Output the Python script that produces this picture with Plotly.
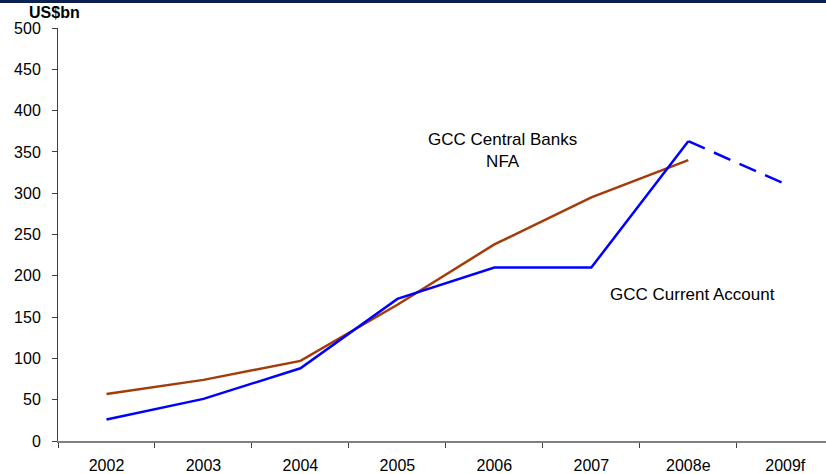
import plotly.graph_objects as go

years = ["2002", "2003", "2004", "2005", "2006", "2007", "2008e", "2009f"]
current_account = [26, 51, 88, 172, 210, 210, 363, 311]
central_bank_nfa = [57, 74, 97, 165, 238, 295, 340]
y_ticks = [0, 50, 100, 150, 200, 250, 300, 350, 400, 450, 500]

BLUE = "#0000FF"
BROWN = "#A33B0B"
FONT = "Arial, Liberation Sans, sans-serif"

fig = go.Figure()

# GCC central banks net foreign assets
fig.add_trace(go.Scatter(
    x=years[:7], y=central_bank_nfa, mode="lines",
    line=dict(color=BROWN, width=2.5), showlegend=False,
))
# GCC current account: actuals/estimate solid, forecast dashed
fig.add_trace(go.Scatter(
    x=years[:7], y=current_account[:7], mode="lines",
    line=dict(color=BLUE, width=2.5), showlegend=False,
))
fig.add_trace(go.Scatter(
    x=years[6:], y=current_account[6:], mode="lines",
    line=dict(color=BLUE, width=2.5, dash="18px,10px"), showlegend=False,
))

fig.add_annotation(x=4.08, y=352, text="GCC Central Banks<br>NFA", showarrow=False,
                   font=dict(family=FONT, size=17, color="black"), align="center")
fig.add_annotation(x=6.04, y=177, text="GCC Current Account", showarrow=False,
                   font=dict(family=FONT, size=17, color="black"))
fig.add_annotation(xref="paper", yref="paper", x=-0.004, y=1.037, text="<b>US$bn</b>",
                   showarrow=False, xanchor="center", yanchor="middle",
                   font=dict(family=FONT, size=16, color="black"))

# dark band along the top edge
fig.add_shape(type="rect", xref="paper", yref="paper", x0=-0.1, x1=1.1,
              y0=1.0605, y1=1.08, fillcolor="#0B2250", line=dict(width=0))

fig.update_layout(
    width=826, height=474,
    margin=dict(l=58, r=0, t=28, b=33),
    plot_bgcolor="white", paper_bgcolor="white",
    font=dict(family=FONT, size=16, color="black"),
    xaxis=dict(
        type="category", range=[-0.5, 7.42], showgrid=False,
        showline=True, linecolor="#808080", linewidth=2,
        ticks="outside", tickson="boundaries", ticklen=5, tickcolor="#404040",
        tickfont=dict(family=FONT, size=16), ticklabelstandoff=9,
    ),
    yaxis=dict(
        range=[0, 500], tickvals=y_ticks, showgrid=False, zeroline=False,
        showline=True, linecolor="#404040", linewidth=1,
        ticks="outside", ticklen=5, tickcolor="#404040",
        tickfont=dict(family=FONT, size=16), ticklabelstandoff=8,
    ),
)

fig.write_html("out.html")
